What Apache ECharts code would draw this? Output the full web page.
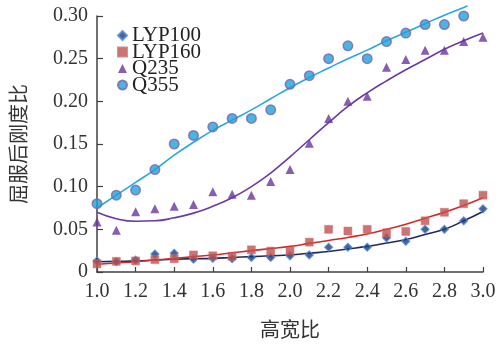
<!DOCTYPE html>
<html><head><meta charset="utf-8">
<script src="https://cdn.jsdelivr.net/npm/echarts@6/dist/echarts.min.js"></script>
<style>html,body{margin:0;padding:0;background:#fff}#c{width:504px;height:344px}</style>
</head><body><div id="c"></div>
<script>
// Measured points (x = 高宽比)
const xs = [1.0,1.1,1.2,1.3,1.4,1.5,1.6,1.7,1.8,1.9,2.0,2.1,2.2,2.3,2.4,2.5,2.6,2.7,2.8,2.9,3.0];
const lyp100 = [0.013,0.012,0.014,0.021,0.022,0.015,0.016,0.0155,0.017,0.017,0.019,0.020,0.029,0.029,0.029,0.040,0.036,0.050,0.050,0.060,0.074];
const lyp160 = [0.0095,0.0125,0.013,0.0145,0.0155,0.020,0.019,0.0185,0.026,0.0245,0.0245,0.035,0.050,0.048,0.050,0.046,0.0475,0.060,0.070,0.080,0.090];
const q235 = [0.0585,0.049,0.0705,0.074,0.077,0.079,0.094,0.091,0.090,0.106,0.120,0.151,0.180,0.200,0.206,0.240,0.249,0.260,0.260,0.270,0.275];
const q355 = [0.080,0.090,0.096,0.120,0.150,0.160,0.170,0.180,0.180,0.190,0.220,0.230,0.250,0.265,0.250,0.270,0.280,0.290,0.290,0.300];
// Trend curves
const trendX = [1.0,1.1,1.2,1.3,1.4,1.5,1.6,1.7,1.8,1.9,2.0,2.1,2.2,2.3,2.4,2.5,2.6,2.7,2.8,2.9,3.0];
const trendLyp100 = [0.012,0.0125,0.013,0.014,0.015,0.0155,0.016,0.017,0.018,0.019,0.020,0.022,0.024,0.027,0.030,0.034,0.038,0.044,0.050,0.060,0.071];
const trendLyp160 = [0.009,0.0105,0.012,0.014,0.016,0.018,0.020,0.0225,0.025,0.0275,0.030,0.0335,0.037,0.0405,0.0445,0.050,0.056,0.063,0.070,0.078,0.087];
const trendQ235 = [0.070,0.0625,0.0595,0.060,0.0635,0.069,0.077,0.087,0.100,0.116,0.135,0.155,0.175,0.194,0.210,0.224,0.237,0.249,0.261,0.271,0.280];
const trendQ355X = [1.0,1.1,1.2,1.3,1.4,1.5,1.6,1.7,1.8,1.9,2.0,2.1,2.2,2.3,2.4,2.5,2.6,2.7,2.8,2.9,2.92];
const trendQ355 = [0.075,0.090,0.105,0.120,0.137,0.152,0.166,0.178,0.190,0.203,0.216,0.228,0.239,0.250,0.260,0.271,0.281,0.291,0.301,0.310,0.312];
const seriesNames = ['LYP100','LYP160','Q235','Q355'];
const xTicks = ['1.0','1.2','1.4','1.6','1.8','2.0','2.2','2.4','2.6','2.8','3.0'];
const yTicks = ['0','0.05','0.10','0.15','0.20','0.25','0.30'];
const xName = '高宽比';
const yName = '屈服后刚度比';

const zip = (a, b) => a.map((v, i) => [v, b[i]]);
const serif = '"Liberation Serif","DejaVu Serif",serif';
const axisCol = '#404040';

const chart = echarts.init(document.getElementById('c'), null, {renderer: 'canvas'});
chart.setOption({
  animation: false,
  grid: {left: 91, right: 21, top: 16, bottom: 63},
  legend: {
    orient: 'vertical', left: 112, top: 20, itemGap: -4.5, itemWidth: 9, itemHeight: 9,
    textStyle: {fontFamily: serif, fontSize: 21, color: '#222'},
    data: [
      {name: seriesNames[0], icon: 'diamond'},
      {name: seriesNames[1], icon: 'rect'},
      {name: seriesNames[2], icon: 'triangle'},
      {name: seriesNames[3], icon: 'circle'}
    ]
  },
  xAxis: {
    type: 'value', min: 1, max: 3, interval: 0.2,
    name: xName, nameLocation: 'middle', nameGap: 47,
    nameTextStyle: {fontFamily: '"Noto Sans CJK SC"', fontSize: 20, color: '#333'},
    axisLine: {lineStyle: {color: axisCol, width: 1.5}},
    axisTick: {inside: true, length: 5, lineStyle: {color: axisCol, width: 1.2}},
    axisLabel: {margin: 10, fontFamily: serif, fontSize: 20, color: '#333',
      formatter: v => { const s = v.toFixed(1); return xTicks.includes(s) ? s : ''; }},
    splitLine: {show: false}
  },
  yAxis: {
    type: 'value', min: 0, max: 0.30, interval: 0.05,
    name: yName, nameLocation: 'middle', nameGap: 69, nameRotate: 90,
    nameTextStyle: {fontFamily: '"Noto Sans CJK SC"', fontSize: 20, color: '#333'},
    axisLine: {show: true, lineStyle: {color: axisCol, width: 1.5}},
    axisTick: {show: true, inside: true, length: 6, lineStyle: {color: axisCol, width: 1.2}},
    axisLabel: {margin: 9, fontFamily: serif, fontSize: 20, color: '#333',
      formatter: v => { const i = Math.round(v / 0.05); return yTicks[i] !== undefined ? yTicks[i] : ''; }},
    splitLine: {show: false}
  },
  series: [
    {name: 'fit1', type: 'line', data: zip(trendX, trendLyp100), smooth: 0.5, showSymbol: false, clip: false,
      lineStyle: {color: '#1f2a5c', width: 1.6}, z: 2, silent: true},
    {name: 'fit2', type: 'line', data: zip(trendX, trendLyp160), smooth: 0.5, showSymbol: false, clip: false,
      lineStyle: {color: '#d02a2a', width: 1.6}, z: 2, silent: true},
    {name: 'fit3', type: 'line', data: zip(trendX, trendQ235), smooth: 0.5, showSymbol: false, clip: false,
      lineStyle: {color: '#6a3aa0', width: 1.6}, z: 2, silent: true},
    {name: 'fit4', type: 'line', data: zip(trendQ355X, trendQ355), smooth: 0.5, showSymbol: false, clip: false,
      lineStyle: {color: '#2aa6df', width: 1.6}, z: 2, silent: true},
    {name: seriesNames[0], type: 'scatter', data: zip(xs, lyp100), symbol: 'diamond', symbolSize: 8, z: 5,
      itemStyle: {color: '#1f3a78', borderColor: '#4f8fd8', borderWidth: 1.2}},
    {name: seriesNames[1], type: 'scatter', data: zip(xs, lyp160), symbol: 'rect', symbolSize: 8, z: 5,
      itemStyle: {color: '#c0504d', borderColor: '#d07070', borderWidth: 0.6}},
    {name: seriesNames[2], type: 'scatter', data: zip(xs, q235), symbol: 'triangle', symbolSize: 9, z: 5,
      itemStyle: {color: '#6a35a0'}},
    {name: seriesNames[3], type: 'scatter', data: zip(xs.slice(0, q355.length), q355), symbol: 'circle', symbolSize: 9.5, z: 6, clip: false,
      itemStyle: {color: '#1ca2dc', borderColor: '#7d65a8', borderWidth: 1.5}}
  ]
});
</script></body></html>
